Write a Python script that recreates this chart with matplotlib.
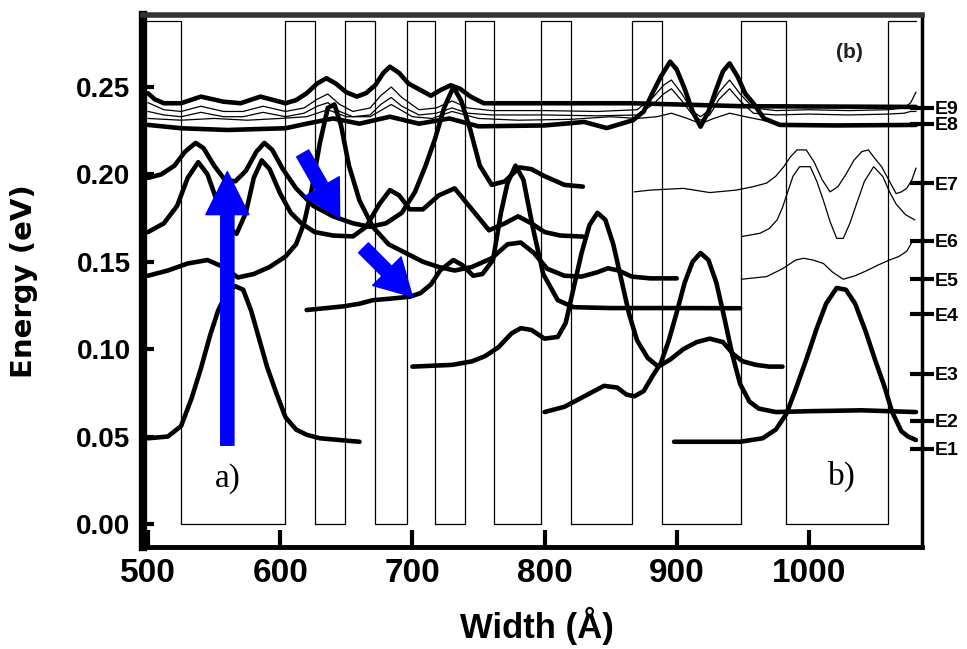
import matplotlib.pyplot as plt

# potential profile (wells at 0, barriers at top)
well_left = [525, 626, 672, 717, 762, 820, 889, 983]
well_right = [604, 649, 696, 740, 797, 866, 949, 1060]
barrier_top = 0.288
profile_start, profile_end = 497, 1081

# level markers on the right axis
level_names = ['E1', 'E2', 'E3', 'E4', 'E5', 'E6', 'E7', 'E8', 'E9']
level_values = [0.043, 0.059, 0.086, 0.120, 0.140, 0.162, 0.195, 0.229, 0.238]

# thick wavefunctions
e1a_x = [500, 515, 525, 533, 540, 547, 553, 560, 566, 572, 578, 584, 590, 597, 604, 612, 620, 630, 645, 660]
e1a_y = [0.049, 0.050, 0.056, 0.072, 0.089, 0.108, 0.122, 0.133, 0.136, 0.134, 0.122, 0.106, 0.090,
         0.075, 0.061, 0.054, 0.051, 0.049, 0.048, 0.047]

e1b_x = [898, 920, 948, 965, 975, 983, 990, 998, 1006, 1013, 1021, 1028, 1035, 1043, 1050, 1057, 1063, 1070, 1075, 1081]
e1b_y = [0.047, 0.047, 0.047, 0.049, 0.054, 0.063, 0.077, 0.094, 0.112, 0.126, 0.135, 0.134, 0.126,
         0.110, 0.094, 0.079, 0.064, 0.053, 0.050, 0.048]

e2_x = [800, 815, 830, 845, 855, 862, 868, 875, 882, 888, 894, 900, 906, 912, 918, 924, 930, 936, 942,
        948, 955, 962, 975, 1000, 1040, 1081]
e2_y = [0.064, 0.067, 0.073, 0.079, 0.078, 0.074, 0.073, 0.076, 0.085, 0.092, 0.105, 0.121, 0.138,
        0.150, 0.155, 0.151, 0.138, 0.118, 0.097, 0.080, 0.070, 0.066, 0.064, 0.0645, 0.065, 0.064]

e3_x = [700, 715, 730, 745, 755, 765, 775, 782, 790, 800, 810, 816, 822, 828, 834, 840, 846, 852, 858,
        864, 870, 878, 886, 895, 905, 915, 925, 935, 943, 950, 960, 970, 980]
e3_y = [0.090, 0.0905, 0.091, 0.093, 0.096, 0.101, 0.109, 0.112, 0.111, 0.106, 0.107, 0.115, 0.135,
        0.155, 0.171, 0.178, 0.174, 0.160, 0.140, 0.120, 0.105, 0.095, 0.090, 0.094, 0.100, 0.104,
        0.106, 0.104, 0.097, 0.093, 0.091, 0.090, 0.090]

e4_x = [620, 635, 648, 660, 670, 685, 698, 706, 714, 721, 731, 738, 746, 753, 761, 767, 772, 778, 784,
        791, 799, 810, 822, 850, 900, 948]
e4_y = [0.1224, 0.1235, 0.1245, 0.126, 0.128, 0.129, 0.130, 0.132, 0.137, 0.145, 0.151, 0.148, 0.142,
        0.143, 0.151, 0.178, 0.195, 0.205, 0.197, 0.170, 0.143, 0.128, 0.124, 0.1235, 0.1235, 0.1234]

e5_x = [500, 515, 530, 545, 557, 568, 580, 592, 604, 612, 618, 624, 630, 636, 641, 646, 652, 660, 670,
        682, 695, 708, 720, 732, 745, 760, 772, 782, 792, 802, 815, 828, 840, 848, 856, 866, 880, 900]
e5_y = [0.142, 0.145, 0.149, 0.151, 0.147, 0.141, 0.143, 0.147, 0.153, 0.160, 0.172, 0.192, 0.218,
        0.238, 0.240, 0.228, 0.205, 0.185, 0.170, 0.160, 0.155, 0.150, 0.147, 0.145, 0.147, 0.152,
        0.160, 0.161, 0.155, 0.146, 0.142, 0.1415, 0.144, 0.1463, 0.145, 0.1415, 0.1405, 0.1405]

e6_x = [500, 512, 522, 530, 538, 545, 552, 560, 567, 574, 580, 586, 592, 600, 608, 616, 626, 640, 655,
        665, 675, 683, 690, 698, 708, 720, 732, 745, 758, 770, 780, 790, 800, 812, 829]
e6_y = [0.167, 0.172, 0.182, 0.198, 0.207, 0.200, 0.185, 0.170, 0.166, 0.178, 0.198, 0.208, 0.203,
        0.189, 0.178, 0.172, 0.167, 0.165, 0.1645, 0.170, 0.183, 0.191, 0.188, 0.180, 0.180, 0.188,
        0.192, 0.180, 0.168, 0.172, 0.176, 0.172, 0.167, 0.165, 0.1644]

e7_x = [500, 510, 520, 528, 536, 542, 550, 558, 566, 574, 582, 588, 594, 602, 612, 625, 640, 655, 668,
        680, 692, 702, 710, 717, 724, 731, 737, 744, 751, 760, 770, 781, 790, 800, 815, 829]
e7_y = [0.198, 0.200, 0.205, 0.213, 0.218, 0.215, 0.205, 0.197, 0.196, 0.202, 0.213, 0.218, 0.214,
        0.203, 0.192, 0.182, 0.176, 0.172, 0.170, 0.172, 0.178, 0.190, 0.205, 0.220, 0.238, 0.250,
        0.242, 0.225, 0.205, 0.194, 0.196, 0.204, 0.203, 0.199, 0.194, 0.193]

e8_x = [500, 525, 560, 604, 620, 640, 660, 683, 705, 728, 750, 800, 830, 847, 867, 875, 882, 888, 895,
        900, 906, 912, 918, 924, 930, 935, 940, 946, 952, 958, 966, 978, 1020, 1081]
e8_y = [0.2283, 0.2264, 0.2254, 0.2264, 0.229, 0.232, 0.229, 0.233, 0.229, 0.232, 0.2275, 0.228,
        0.230, 0.2265, 0.231, 0.236, 0.247, 0.256, 0.2645, 0.260, 0.249, 0.236, 0.2273, 0.236, 0.249,
        0.259, 0.2635, 0.256, 0.246, 0.2407, 0.232, 0.2283, 0.228, 0.2283]

e9_x = [500, 505, 512, 525, 540, 557, 570, 585, 604, 612, 620, 628, 635, 642, 650, 658, 665, 672, 678,
        683, 690, 697, 706, 714, 722, 729, 736, 744, 754, 800, 867, 950, 1081]
e9_y = [0.2464, 0.243, 0.2407, 0.2407, 0.2445, 0.2416, 0.2407, 0.2445, 0.2407, 0.2425, 0.2464, 0.252,
        0.255, 0.252, 0.247, 0.2445, 0.2465, 0.2511, 0.258, 0.2616, 0.258, 0.252, 0.2483, 0.245,
        0.2485, 0.251, 0.249, 0.2445, 0.2407, 0.2407, 0.2407, 0.2390, 0.2386]

# thin wavefunctions, top cluster
thin_a_x = [500, 512, 525, 540, 557, 572, 587, 604, 618, 628, 636, 645, 655, 668, 676, 684, 692, 705, 718,
            730, 742, 760, 800, 840, 870, 882, 890, 896, 904, 912, 918, 925, 932, 940, 948, 958, 975, 1000,
            1030, 1060, 1072, 1077, 1081]
thin_a_y = [0.241, 0.237, 0.236, 0.239, 0.236, 0.236, 0.239, 0.236, 0.238, 0.243, 0.246, 0.240, 0.236,
            0.238, 0.245, 0.250, 0.244, 0.237, 0.238, 0.242, 0.238, 0.2365, 0.2365, 0.236, 0.237, 0.244,
            0.251, 0.254, 0.246, 0.236, 0.233, 0.237, 0.247, 0.254, 0.246, 0.238, 0.2365, 0.237, 0.2365,
            0.237, 0.238, 0.241, 0.247]
thin_b_y = [0.236, 0.234, 0.233, 0.2355, 0.233, 0.233, 0.2355, 0.233, 0.235, 0.239, 0.241, 0.236, 0.233,
            0.234, 0.240, 0.244, 0.239, 0.234, 0.235, 0.238, 0.235, 0.234, 0.234, 0.2335, 0.234, 0.240,
            0.246, 0.249, 0.242, 0.234, 0.231, 0.234, 0.243, 0.249, 0.242, 0.235, 0.234, 0.2345, 0.234,
            0.2345, 0.235, 0.236, 0.236]
thin_c_x = [500, 525, 550, 575, 600, 620, 636, 650, 668, 684, 700, 715, 730, 750, 780, 820, 850, 870, 885,
            896, 908, 918, 928, 940, 952, 965, 975]
thin_c_y = [0.232, 0.231, 0.232, 0.231, 0.232, 0.233, 0.237, 0.233, 0.233, 0.240, 0.233, 0.232, 0.236,
            0.232, 0.231, 0.2315, 0.233, 0.232, 0.233, 0.235, 0.232, 0.229, 0.232, 0.235, 0.233, 0.231,
            0.229]

# thin wavefunctions, right part
r7_x = [868, 880, 905, 925, 945, 958, 968, 975, 981, 986, 991, 998, 1004, 1010, 1016, 1022, 1028, 1034,
        1040, 1045, 1050, 1055, 1061, 1066, 1070, 1074, 1078, 1081]
r7_y = [0.190, 0.191, 0.192, 0.1896, 0.191, 0.193, 0.195, 0.199, 0.2044, 0.210, 0.214, 0.214, 0.207,
        0.197, 0.190, 0.193, 0.200, 0.208, 0.213, 0.214, 0.209, 0.2044, 0.196, 0.189, 0.190, 0.192,
        0.197, 0.2035]
r6_x = [949, 963, 970, 976, 980, 984, 988, 993, 1001, 1006, 1011, 1016, 1021, 1026, 1031, 1036, 1042,
        1049, 1056, 1061, 1066, 1073, 1080]
r6_y = [0.1644, 0.1663, 0.169, 0.174, 0.181, 0.190, 0.199, 0.2044, 0.2044, 0.196, 0.185, 0.173, 0.1634,
        0.1634, 0.172, 0.183, 0.196, 0.2044, 0.1987, 0.190, 0.183, 0.177, 0.174]
r5_x = [949, 968, 980, 990, 996, 1003, 1011, 1018, 1026, 1035, 1044, 1052, 1061, 1068, 1074, 1079]
r5_y = [0.140, 0.1415, 0.146, 0.151, 0.152, 0.151, 0.149, 0.144, 0.140, 0.142, 0.145, 0.148, 0.151,
        0.153, 0.156, 0.1625]

# blue arrows: (tail, tip)
arrows = [((560, 0.045), (560, 0.2016)),
          ((617, 0.212), (645, 0.175)),
          ((663, 0.158), (700, 0.130))]

fig = plt.figure(figsize=(9.67, 6.49), dpi=100)
ax = fig.add_axes([0.1479, 0.1572, 0.8056, 0.8197])

# profile
px, py = [profile_start], [barrier_top]
for l, r in zip(well_left, well_right):
    px += [l, l, r, r]
    py += [barrier_top, 0, 0, barrier_top]
px.append(profile_end)
py.append(barrier_top)
ax.plot(px, py, color='black', lw=0.9, zorder=1)

thick = dict(color='black', lw=3.3, solid_capstyle='round', solid_joinstyle='round', zorder=3)
thin = dict(color='black', lw=0.9, zorder=2)

for xs, ys in [(e1a_x, e1a_y), (e1b_x, e1b_y), (e2_x, e2_y), (e3_x, e3_y), (e4_x, e4_y),
               (e5_x, e5_y), (e6_x, e6_y), (e7_x, e7_y), (e8_x, e8_y), (e9_x, e9_y)]:
    ax.plot(xs, ys, **thick)

for xs, ys in [(thin_a_x, thin_a_y), (thin_a_x, thin_b_y), (thin_c_x, thin_c_y),
               (r7_x, r7_y), (r6_x, r6_y), (r5_x, r5_y)]:
    ax.plot(xs, ys, **thin)

# arrows
ax.annotate('', xy=arrows[0][1], xytext=arrows[0][0],
            arrowprops=dict(arrowstyle='simple,head_length=3.1,head_width=3.1,tail_width=0.95',
                            mutation_scale=10, color='#0000ff', shrinkA=0, shrinkB=0), zorder=5)
for tail, tip in arrows[1:]:
    ax.annotate('', xy=tip, xytext=tail,
                arrowprops=dict(arrowstyle='simple,head_length=2.6,head_width=2.9,tail_width=1.0',
                                mutation_scale=10, color='#0000ff', shrinkA=0, shrinkB=0), zorder=5)

ax.text(560.5, 0.026, 'a)', fontsize=24, family='Liberation Serif', ha='center', va='center')
ax.text(1025, 0.027, 'b)', fontsize=24, family='Liberation Serif', ha='center', va='center')
ax.text(1031, 0.2695, '(b)', fontsize=15, weight='bold', family='Liberation Sans',
        ha='center', va='center', color='#222222')

ax.set_xlim(496.2, 1085.6)
ax.set_ylim(-0.0132, 0.2912)

ax.set_xticks([500, 600, 700, 800, 900, 1000])
ax.set_xticklabels(['500', '600', '700', '800', '900', '1000'], family='Liberation Sans',
                   fontsize=24, weight='bold')
ax.set_yticks([0.0, 0.05, 0.10, 0.15, 0.20, 0.25])
ax.set_yticklabels(['0.00', '0.05', '0.10', '0.15', '0.20', '0.25'], family='Liberation Sans',
                   fontsize=20, weight='bold')
ax.tick_params(axis='x', direction='in', length=12, width=3, pad=8, top=False)
ax.tick_params(axis='y', direction='in', length=8, width=3, pad=9, right=False)

ax.set_xlabel('Width (Å)', family='Liberation Sans', fontsize=25, weight='bold')
ax.xaxis.set_label_coords(0.506, -0.112)
ax.set_ylabel('Energy (eV)', family='DejaVu Sans', fontsize=21, weight='bold')
ax.yaxis.set_label_coords(-0.135, 0.5)

ax.spines['left'].set_linewidth(6)
ax.spines['bottom'].set_linewidth(3.5)
ax.spines['top'].set_linewidth(4)
ax.spines['top'].set_color('#333333')
ax.spines['right'].set_linewidth(2.5)

# level ticks on the right
ax2 = ax.twinx()
ax2.set_ylim(ax.get_ylim())
ax2.set_yticks(level_values)
ax2.set_yticklabels(level_names, family='Liberation Sans', fontsize=14, weight='bold')
ax2.tick_params(axis='y', direction='inout', length=17, width=3, pad=1)
for s in ax2.spines.values():
    s.set_visible(False)

fig.savefig('out.png', dpi=100)
